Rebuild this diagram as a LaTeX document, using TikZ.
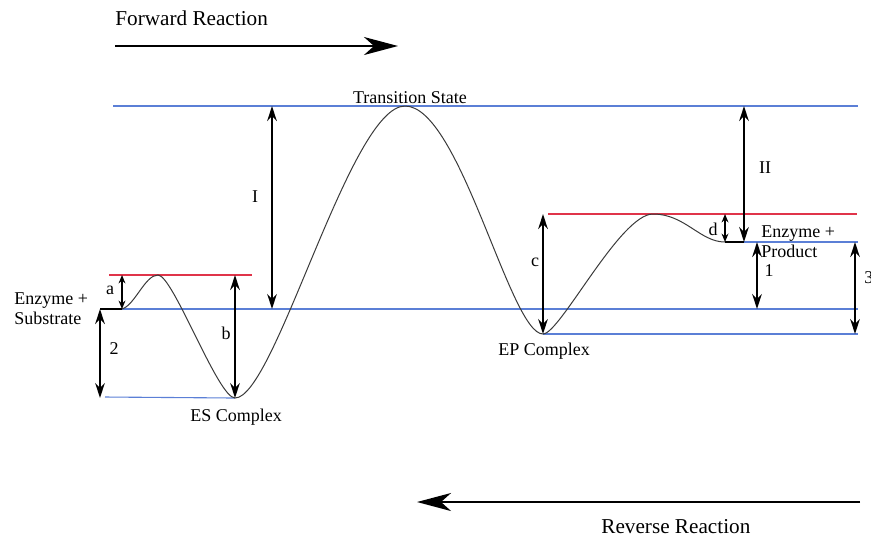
\documentclass[tikz,border=0pt]{standalone}
\usepackage{fontspec}
\setmainfont{Liberation Serif}
\usetikzlibrary{arrows.meta}
\definecolor{LevelBlue}{HTML}{5B7FD6}
\definecolor{BarrierRed}{HTML}{E0344A}
\definecolor{CurveGray}{HTML}{3A3A3A}

\begin{document}
\begin{tikzpicture}[x=0.5pt,y=-0.5pt,
  lvl/.style={LevelBlue, line width=0.55pt},
  barrier/.style={BarrierRed, line width=0.55pt},
  curve/.style={CurveGray, line width=0.5pt},
  gap/.style={line width=0.9pt,
              {Stealth[length=7.5pt,width=4.8pt]}-{Stealth[length=7.5pt,width=4.8pt]}},
  smallgap/.style={line width=0.7pt,
              {Stealth[length=4.2pt,width=3.4pt]}-{Stealth[length=4.2pt,width=3.4pt]}},
  lbl/.style={font=\fontsize{9}{10}\selectfont, inner sep=1pt},
  side/.style={lbl, align=left, anchor=west},
  dir/.style={line width=1pt, -{Stealth[length=17pt,width=9pt,inset=5pt]}},
  dirlbl/.style={font=\fontsize{10.6}{12}\selectfont, anchor=west, inner sep=0pt}]
  \useasboundingbox (0,0) rectangle (871,538);
  % key points of the curve
  \coordinate (s00) at (100,309);
  \coordinate (s0) at (122,309);  % enzyme + substrate
  \coordinate (ta) at (158,275);  % first barrier
  \coordinate (es) at (235,398);  % ES complex
  \coordinate (ts) at (405,106);  % transition state
  \coordinate (ep) at (543,334);  % EP complex
  \coordinate (tb) at (653,214);  % last barrier
  \coordinate (p0) at (725,242);  % enzyme + product
  \coordinate (p1) at (744,242);
  \coordinate (R) at (858,0);
  \coordinate (xI) at (272,0);
  \coordinate (x1) at (757,0);
  \coordinate (x3) at (855,0);
  % levels
  \draw[lvl] (113,106) -- (ts -| R);
  \draw[lvl] (s0) -- (s0 -| R);
  \draw[lvl] (105,397) -- (es);
  \draw[lvl] (ep) -- (ep -| R);
  \draw[lvl] (p1) -- (p1 -| R);
  \draw[barrier] (109,275) -- (252,275);
  \draw[barrier] (548,214) -- (857,214);
  % energy curve
  \draw[black, line width=0.8pt] (s00) -- (s0);
  \draw[curve] (s0) .. controls +(13,-4) and +(-13,0) .. (ta)
    .. controls +(15,0) and +(-17,0) .. (es)
    .. controls +(40,0) and +(-55,0) .. (ts)
    .. controls +(55,0) and +(-33,0) .. (ep)
    .. controls +(17,0) and +(-33,0) .. (tb)
    .. controls +(32,0) and +(-25,0) .. (p0);
  \draw[black, line width=0.6pt] (p0) -- (p1);
  % energy gaps
  \draw[smallgap] (s0) -- (s0 |- ta);
  \draw[gap] (s00) -- (s00 |- es);
  \draw[gap] (es |- ta) -- (es);
  \draw[gap] (xI |- ts) -- (xI |- s0);
  \draw[gap] (ep |- tb) -- (ep);
  \draw[smallgap] (p0 |- tb) -- (p0);
  \draw[gap] (p1 |- ts) -- (p1);
  \draw[gap] (x1 |- p1) -- (x1 |- s0);
  \draw[gap] (x3 |- p1) -- (x3 |- ep);
  % gap labels
  \node[lbl] (la) at (110,290) {a};
  \node[lbl] (l2) at (114,349) {2};
  \node[lbl] (lb) at (226,333) {b};
  \node[lbl] (lI) at (255,197) {I};
  \node[lbl] (lc) at (535,262) {c};
  \node[lbl] (ld) at (713,229) {d};
  \node[lbl] (lII) at (765,168) {II};
  \node[lbl] (l1) at (769,271) {1};
  \node[lbl, anchor=west] (l3) at (862,278) {3};
  % state labels
  \node[lbl] (tsl) at (410,98) {Transition State};
  \node[side] (esub) at (12,309) {Enzyme +\\Substrate};
  \node[side] (eprod) at (759,242) {Enzyme +\\Product};
  \node[lbl] (esl) at (236,417) {ES Complex};
  \node[lbl] (epl) at (544,351) {EP Complex};
  % reaction direction
  \coordinate (f0) at (115,46);
  \coordinate (f1) at (398,46);
  \coordinate (r0) at (860,502);
  \coordinate (r1) at (417,502);
  \draw[dir] (f0) -- (f1);
  \draw[dir] (r0) -- (r1);
  \node[dirlbl] (fwd) at (115,18) {Forward Reaction};
  \node[dirlbl] (rev) at (601,527) {Reverse Reaction};
\end{tikzpicture}
\end{document}
